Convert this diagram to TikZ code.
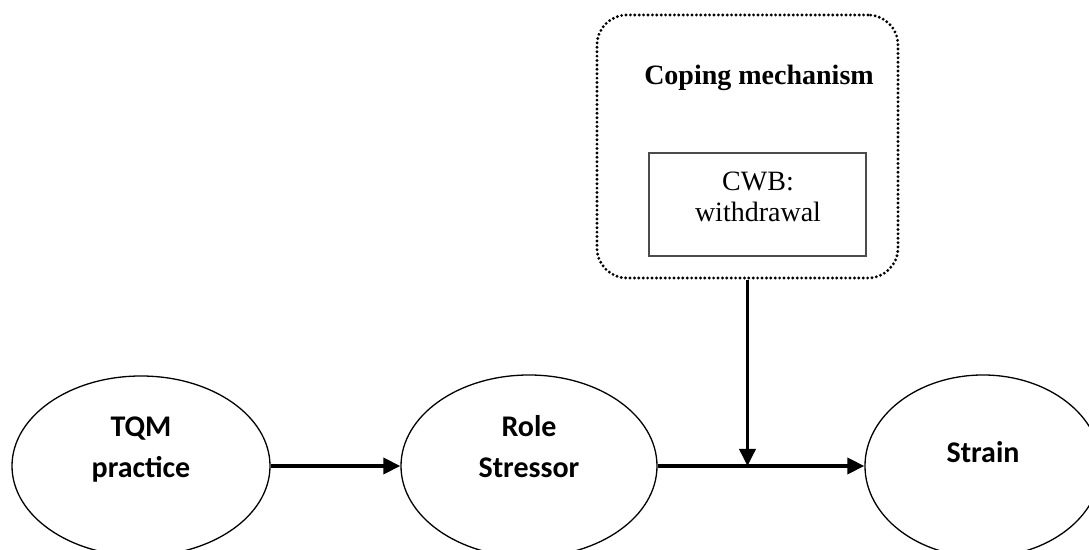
\documentclass[tikz,border=0pt]{standalone}
\usepackage{fontspec}
\setmainfont{Liberation Serif}
\newfontfamily\calibri{Carlito}
\usetikzlibrary{positioning, arrows.meta, calc, shapes.geometric}

\begin{document}
\begin{tikzpicture}[x=0.5pt, y=-0.5pt,
	oval/.style={draw, ellipse, line width=0.65pt, inner sep=0pt},
	ovaltext/.style={font=\calibri\bfseries\fontsize{15}{20.5}\selectfont, align=center},
	flow/.style={line width=1.8pt, -{Triangle[length=8.5pt, width=8pt]}}]
	\useasboundingbox (0,0) rectangle (1089,550);
	% the three constructs
	\node[oval, minimum width=129pt, minimum height=90pt] (tqm) at (141,466) {};
	\node[oval, minimum width=128pt, minimum height=91pt] (role) at (529,466) {};
	\node[oval, minimum width=118pt, minimum height=91pt] (strain) at (983,466) {};
	\node[ovaltext] (tqmlbl) at ([yshift=8pt]tqm.center) {TQM\\practice};
	\node[ovaltext] (rolelbl) at ([yshift=9.5pt]role.center) {Role\\Stressor};
	\node[ovaltext] (strainlbl) at ([yshift=7pt]strain.center) {Strain};
	% moderator
	\node[draw, rounded corners=15pt, line width=1.6pt, dash pattern=on 0pt off 2.2pt, line cap=round,
		minimum width=150.5pt, minimum height=131.5pt] (coping) at (747.5,146.5) {};
	\node[font=\bfseries\fontsize{14}{16}\selectfont, anchor=base] (copingtitle) at (759,85) {Coping mechanism};
	\node[draw=black!70, line width=0.6pt, minimum width=108.5pt, minimum height=51.5pt] (cwb) at (757.5,204.5) {};
	\node[font=\fontsize{14}{15.5}\selectfont, align=center] (cwblbl) at (758,197) {CWB:\\withdrawal};
	\draw[flow] (tqm) -- (role);
	\draw[flow] (role) -- (strain);
	\coordinate (meet) at (coping.south |- role.east);
	\draw[flow] (coping.south) -- (meet);
\end{tikzpicture}
\end{document}
